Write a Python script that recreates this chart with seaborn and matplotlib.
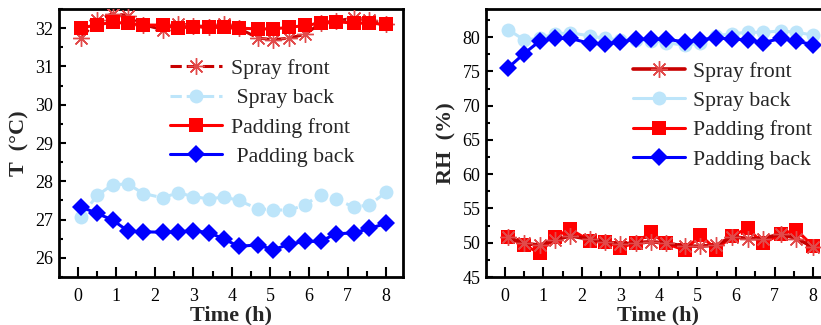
import numpy as np
import pandas as pd
import matplotlib
matplotlib.use("Agg")
import matplotlib.pyplot as plt
import seaborn as sns
from matplotlib.ticker import MultipleLocator

# ---------------- data ----------------
time_h = [0.08, 0.5, 0.9, 1.3, 1.7, 2.2, 2.6, 3.0, 3.4, 3.8,
          4.17, 4.68, 5.07, 5.49, 5.9, 6.3, 6.7, 7.17, 7.57, 8.0]

t_spray_front = [31.74, 32.2, 32.38, 32.33, 32.09, 31.96, 32.12, 32.06, 32.04, 32.1,
                 32.0, 31.74, 31.7, 31.74, 31.84, 32.13, 32.19, 32.26, 32.22, 32.1]
t_spray_back = [27.08, 27.63, 27.91, 27.93, 27.68, 27.57, 27.7, 27.6, 27.54, 27.59,
                27.5, 27.28, 27.26, 27.24, 27.39, 27.65, 27.54, 27.32, 27.39, 27.71]
t_pad_front = [32.0, 32.09, 32.15, 32.13, 32.08, 32.08, 32.0, 32.04, 32.02, 32.02,
               32.0, 31.98, 31.98, 32.02, 32.07, 32.13, 32.17, 32.13, 32.13, 32.1]
t_pad_back = [27.33, 27.16, 26.99, 26.7, 26.68, 26.67, 26.68, 26.71, 26.66, 26.49,
              26.3, 26.34, 26.21, 26.36, 26.43, 26.43, 26.63, 26.65, 26.77, 26.9]

rh_spray_front = [50.8, 49.9, 49.66, 50.4, 51.0, 50.5, 50.15, 49.8, 50.0, 50.15,
                  49.95, 49.5, 49.5, 49.66, 50.9, 50.6, 50.6, 51.3, 50.6, 49.4]
rh_spray_back = [81.1, 79.6, 79.8, 80.5, 80.6, 80.2, 79.8, 79.6, 79.6, 79.5,
                 79.2, 78.8, 79.1, 80.2, 80.5, 80.7, 80.7, 80.9, 80.7, 80.3]
rh_pad_front = [50.8, 49.66, 48.5, 50.9, 51.95, 50.3, 50.15, 49.3, 50.0, 51.5,
                49.9, 48.9, 51.1, 49.0, 51.0, 52.1, 49.9, 51.3, 51.85, 49.5]
rh_pad_back = [75.5, 77.6, 79.4, 79.8, 79.8, 79.1, 79.0, 79.3, 79.7, 79.7,
               79.7, 79.3, 79.6, 79.9, 79.7, 79.6, 79.2, 79.8, 79.4, 78.9]

labels_left = ["Spray front", " Spray back", "Padding front", " Padding back"]
labels_right = ["Spray front", "Spray back", "Padding front", "Padding back"]
x_ticks = [0, 1, 2, 3, 4, 5, 6, 7, 8]

# ---------------- style ----------------
sns.set_style("ticks")
plt.rcParams["font.family"] = ["Liberation Serif", "DejaVu Serif"]
plt.rcParams["mathtext.fontset"] = "stix"

C_SF_LINE = "#c80000"
C_SF_MARK = "#e24a4a"
C_SB = "#bde5fa"
C_PF = "#ff0000"
C_PB = "#0000ff"

fig = plt.figure(figsize=(8.21, 3.25), dpi=100)
axL = fig.add_axes([59 / 821, 1 - 277 / 325, (403 - 59) / 821, (277 - 9) / 325])
axR = fig.add_axes([486 / 821, 1 - 277 / 325, (830 - 486) / 821, (277 - 9) / 325])

df = pd.DataFrame({
    "t": time_h,
    "tsf": t_spray_front, "tsb": t_spray_back, "tpf": t_pad_front, "tpb": t_pad_back,
    "rsf": rh_spray_front, "rsb": rh_spray_back, "rpf": rh_pad_front, "rpb": rh_pad_back,
})


def draw(ax, cols, labels, spray_ls, sf_z):
    sf, sb, pf, pb = cols
    sns.lineplot(data=df, x="t", y=sf, ax=ax, estimator=None, sort=False,
                 color=C_SF_LINE, linewidth=2.6 if spray_ls == "-" else 2.2,
                 linestyle=spray_ls,
                 marker=(8, 2, 0), markersize=12, markeredgewidth=1.0,
                 markeredgecolor=C_SF_MARK, markerfacecolor=C_SF_MARK,
                 label=labels[0], zorder=sf_z)
    sns.lineplot(data=df, x="t", y=sb, ax=ax, estimator=None, sort=False,
                 color=C_SB, linewidth=2.2, linestyle=spray_ls,
                 marker="o", markersize=10, markeredgewidth=0,
                 markerfacecolor=C_SB, label=labels[1], zorder=3)
    sns.lineplot(data=df, x="t", y=pf, ax=ax, estimator=None, sort=False,
                 color=C_PF, linewidth=2.2, linestyle="-",
                 marker="s", markersize=9.5, markeredgewidth=0,
                 markerfacecolor=C_PF, label=labels[2], zorder=4)
    sns.lineplot(data=df, x="t", y=pb, ax=ax, estimator=None, sort=False,
                 color=C_PB, linewidth=2.2, linestyle="-",
                 marker="D", markersize=9, markeredgewidth=0,
                 markerfacecolor=C_PB, label=labels[3], zorder=5)


draw(axL, ["tsf", "tsb", "tpf", "tpb"], labels_left, "--", 3)
draw(axR, ["rsf", "rsb", "rpf", "rpb"], labels_right, "-", 6)

for ax in (axL, axR):
    ax.set_xlim(-0.49, 8.44)
    ax.set_xticks(x_ticks)
    ax.xaxis.set_minor_locator(MultipleLocator(0.5))
    for s in ax.spines.values():
        s.set_linewidth(2.0)
        s.set_color("black")
    ax.tick_params(axis="both", which="both", direction="in", colors="black",
                   labelsize=13, width=1.5)
    ax.tick_params(axis="x", which="major", length=7, pad=8)
    ax.tick_params(axis="x", which="minor", length=4)
    ax.tick_params(axis="y", which="major", length=5, pad=4)
    ax.tick_params(axis="y", which="minor", length=3)
    ax.set_xlabel("Time (h)", fontsize=16, fontweight="bold", labelpad=0)
    ax.grid(False)

axL.set_ylim(25.5, 32.5)
axL.yaxis.set_major_locator(MultipleLocator(1))
axL.yaxis.set_minor_locator(MultipleLocator(0.5))
axL.set_ylabel("T  (°C)", fontsize=16, fontweight="bold", labelpad=4)

axR.set_ylim(45, 84.1)
axR.yaxis.set_major_locator(MultipleLocator(5))
axR.yaxis.set_minor_locator(MultipleLocator(2.5))
axR.set_ylabel("RH  (%)", fontsize=16, fontweight="bold", labelpad=4)

leg_kw = dict(frameon=False, fontsize=15.7, handlelength=2.4, handletextpad=0.37,
              labelspacing=0.42, borderpad=0.0, borderaxespad=0.0)
axL.legend(loc="upper left", bbox_to_anchor=(0.323, 0.815), **leg_kw)
axR.legend(loc="upper left", bbox_to_anchor=(0.427, 0.805), **leg_kw)

fig.savefig("out.png", dpi=100)
